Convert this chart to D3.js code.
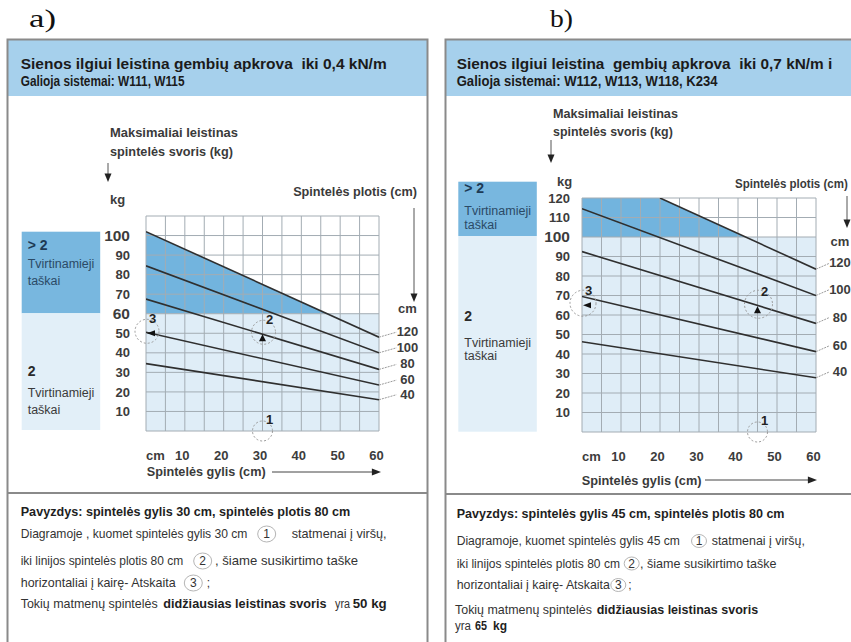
<!DOCTYPE html>
<html><head><meta charset="utf-8">
<script src="https://cdn.jsdelivr.net/npm/d3@7"></script>
<style>
body{margin:0;background:#fff}
svg{display:block}
text{font-family:"Liberation Sans Narrow","Arial Narrow","Liberation Sans",Arial,sans-serif;white-space:pre}
.serif{font-family:"Liberation Serif","DejaVu Serif",serif}
</style>
</head><body>
<svg id="c" width="851" height="642"></svg>
<script>
// ---------------- DATA ----------------
const depthTicks = [10, 20, 30, 40, 50, 60];
const kgTicksA = [10, 20, 30, 40, 50, 60, 70, 80, 90, 100];
const kgTicksB = [10, 20, 30, 40, 50, 60, 70, 80, 90, 100, 110, 120];
const widthLabels = [120, 100, 80, 60, 40];

// chart a) : value at depth 0 and 60 cm
const aDepth = [0, 60];
const aKg120 = [102, 48];
const aKg100 = [84.5, 40];
const aKg80  = [67.5, 31.5];
const aKg60  = [50.5, 23.5];
const aKg40  = [34.5, 16];

// chart b)
const bDepth120 = [20, 60];
const bKg120 = [120, 83.5];
const bDepth = [0, 60];
const bKg100 = [114.5, 70];
const bKg80  = [92.5, 55.7];
const bKg60  = [69.5, 41.2];
const bKg40  = [46.3, 27.8];

const aStrong = 60, bStrong = 100;        // >2 fixing points above this weight
const aExDepth = 30, aExKg = 50;          // worked example a)
const bExDepth = 45, bExKg = 65;          // worked example b)

// ---------------- COLOURS ----------------
const C = {
  header: "#a6d0ec", dark: "#72b4de", light: "#dfedf7", legDark: "#78b7df", legLight: "#e2eff8",
  grid: "#a3acb3", line: "#2f2f2f", frame: "#8a8a8a", text: "#2a2a2a", soft: "#3c3c3c"
};

const svg = d3.select("#c");
const defs = svg.append("defs");

// text helper: if a width is given, the text is horizontally scaled to that width
function txt(g, x, y, s, o = {}) {
  const t = g.append("text").text(s)
    .attr("font-size", o.size || 12)
    .attr("fill", o.fill || C.text)
    .attr("text-anchor", o.anchor || "start");
  if (o.bold) t.attr("font-weight", "bold");
  if (o.cls) t.attr("class", o.cls);
  if (o.w) {
    t.attr("x", 0).attr("y", 0);
    const n = t.node().getComputedTextLength() || o.w;
    t.attr("transform", `translate(${x},${y}) scale(${o.w / n},1)`);
  } else {
    t.attr("x", x).attr("y", y);
  }
  return t;
}
function arrowDown(g, x, y1, y2, s = 3.5) {
  g.append("line").attr("x1", x).attr("x2", x).attr("y1", y1).attr("y2", y2 - 2 * s)
    .attr("stroke", "#555").attr("stroke-width", 1);
  g.append("path").attr("d", `M${x - s},${y2 - 2.4 * s}L${x + s},${y2 - 2.4 * s}L${x},${y2}Z`).attr("fill", "#222");
}
function arrowRight(g, x1, x2, y, s = 3.5) {
  g.append("line").attr("x1", x1).attr("x2", x2 - 2 * s).attr("y1", y).attr("y2", y)
    .attr("stroke", "#444").attr("stroke-width", 1);
  g.append("path").attr("d", `M${x2 - 2.6 * s},${y - s}L${x2 - 2.6 * s},${y + s}L${x2},${y}Z`).attr("fill", "#222");
}
function dashCircle(g, cx, cy, r) {
  g.append("circle").attr("cx", cx).attr("cy", cy).attr("r", r)
    .attr("fill", "none").attr("stroke", "#9a9a9a").attr("stroke-width", 1).attr("stroke-dasharray", "2,2");
}

// ---------------- PANEL FRAMES ----------------
function panel(x0, x1, divY) {
  const g = svg.append("g");
  g.append("rect").attr("x", x0).attr("y", 40).attr("width", x1 - x0).attr("height", 56).attr("fill", C.header);
  g.append("rect").attr("x", x0).attr("y", 39.5).attr("width", x1 - x0).attr("height", 640)
    .attr("fill", "none").attr("stroke", C.frame).attr("stroke-width", 2);
  g.append("line").attr("x1", x0).attr("x2", x1).attr("y1", divY).attr("y2", divY)
    .attr("stroke", C.frame).attr("stroke-width", 2);
  return g;
}
const pa = panel(7.5, 427.5, 493);
const pb = panel(445.5, 880, 494);

txt(svg, 29, 27, "a)", {size: 26, cls: "serif", fill: "#111", w: 27});
txt(svg, 550, 27, "b)", {size: 26, cls: "serif", fill: "#111", w: 23});

txt(pa, 20.7, 68.5, "Sienos ilgiui leistina gembių apkrova  iki 0,4 kN/m", {size: 15, bold: true, w: 366, fill: "#1b1b1b"});
txt(pa, 20.7, 85.5, "Galioja sistemai: W111, W115", {size: 15, bold: true, w: 164, fill: "#1b1b1b"});
txt(pb, 456.7, 68.5, "Sienos ilgiui leistina  gembių apkrova  iki 0,7 kN/m i", {size: 15, bold: true, w: 376, fill: "#1b1b1b"});
txt(pb, 456.7, 85.5, "Galioja sistemai: W112, W113, W118, K234", {size: 15, bold: true, w: 261, fill: "#1b1b1b"});

// ---------------- CHART ----------------
function chart(o) {
  const g = svg.append("g");
  const x = o.x, y = o.y;
  const [x0, x1] = x.range(), [yb, yt] = y.range();
  defs.append("clipPath").attr("id", "clip" + o.id).append("rect")
    .attr("x", x0).attr("y", yt).attr("width", x1 - x0).attr("height", yb - yt);
  const p = g.append("g").attr("clip-path", `url(#clip${o.id})`);
  p.append("rect").attr("x", x0).attr("y", yt).attr("width", x1 - x0).attr("height", yb - yt).attr("fill", "#fff");
  p.append("rect").attr("x", x0).attr("y", yt).attr("width", x1 - x0).attr("height", y(o.strong) - yt).attr("fill", C.dark);
  const top = o.series[0];
  p.append("path").datum(d3.zip(top.depth, top.kg))
    .attr("d", d3.area().x(d => x(d[0])).y0(yt - 2).y1(d => y(d[1])))
    .attr("fill", "#fff");
  p.append("rect").attr("x", x0).attr("y", y(o.strong)).attr("width", x1 - x0).attr("height", yb - y(o.strong)).attr("fill", C.light);

  // grid
  const gx = d3.range(0, 61, 5), gy = d3.range(0, y.domain()[1] + 1, 10);
  g.append("g").selectAll("line").data(gx).join("line")
    .attr("x1", d => x(d)).attr("x2", d => x(d)).attr("y1", yt).attr("y2", yb)
    .attr("stroke", C.grid).attr("stroke-width", 1);
  g.append("g").selectAll("line").data(gy).join("line")
    .attr("x1", x0).attr("x2", x1).attr("y1", d => y(d)).attr("y2", d => y(d))
    .attr("stroke", C.grid).attr("stroke-width", 1);

  // series lines
  const line = d3.line().x(d => x(d[0])).y(d => y(d[1]));
  const sl = g.append("g").attr("clip-path", `url(#clip${o.id})`);
  o.series.forEach(s => {
    sl.append("path").datum(d3.zip(s.depth, s.kg)).attr("d", line)
      .attr("fill", "none").attr("stroke", C.line).attr("stroke-width", 1.6);
  });

  // width labels at right with leader lines
  o.series.forEach((s, i) => {
    const yEnd = y(s.kg[s.kg.length - 1]);
    const ly = yEnd - o.labelLift;
    g.append("line").attr("x1", x1).attr("y1", yEnd).attr("x2", o.labelX - 11).attr("y2", ly + 0.5)
      .attr("stroke", "#9a9a9a").attr("stroke-width", 1).attr("stroke-dasharray", "2,1");
    txt(g, o.labelX, ly + 4.5, String(widthLabels[i]), {size: 13, bold: true, anchor: "middle", fill: C.soft});
  });

  // y axis tick labels
  const ya = g.append("g").attr("transform", `translate(${o.yLabelX},0)`)
    .call(d3.axisLeft(y).tickValues(o.kgTicks).tickSize(0).tickPadding(0));
  ya.select(".domain").remove();
  ya.selectAll("text").attr("font-size", d => o.bigTicks.includes(d) ? 15.5 : 13)
    .attr("font-weight", "bold").attr("fill", C.soft).attr("font-family", null);

  // x axis tick labels
  const xa = g.append("g").attr("transform", `translate(-3,${o.xLabelY})`)
    .call(d3.axisBottom(x).tickValues(depthTicks).tickSize(0).tickPadding(0));
  xa.select(".domain").remove();
  xa.selectAll("text").attr("font-size", 13).attr("font-weight", "bold").attr("fill", C.soft)
    .attr("font-family", null).attr("dy", "0.35em").attr("y", 0);
  txt(g, x(0) + 9.5, o.xLabelY + 4.5, "cm", {size: 13, bold: true, anchor: "middle", fill: C.soft});
  return g;
}

const xA = d3.scaleLinear().domain([0, 60]).range([146, 379]);
const yA = d3.scaleLinear().domain([0, 110]).range([431, 216]);
const xB = d3.scaleLinear().domain([0, 60]).range([582, 816]);
const yB = d3.scaleLinear().domain([0, 120]).range([432, 198]);

const gA = chart({
  id: "A", x: xA, y: yA, strong: aStrong, kgTicks: kgTicksA, bigTicks: [100, 60],
  yLabelX: 130, xLabelY: 455, labelX: 407.5, labelLift: 5.5,
  series: [
    {depth: aDepth, kg: aKg120}, {depth: aDepth, kg: aKg100}, {depth: aDepth, kg: aKg80},
    {depth: aDepth, kg: aKg60}, {depth: aDepth, kg: aKg40}
  ]
});
const gB = chart({
  id: "B", x: xB, y: yB, strong: bStrong, kgTicks: kgTicksB, bigTicks: [100],
  yLabelX: 570, xLabelY: 456.7, labelX: 840, labelLift: 6.2,
  series: [
    {depth: bDepth120, kg: bKg120}, {depth: bDepth, kg: bKg100}, {depth: bDepth, kg: bKg80},
    {depth: bDepth, kg: bKg60}, {depth: bDepth, kg: bKg40}
  ]
});

// ---------------- LEGEND BOXES ----------------
function legend(g, x, yTop, yMid, yBot, t) {
  g.append("rect").attr("x", x).attr("y", yTop).attr("width", 78.5).attr("height", yMid - yTop).attr("fill", C.legDark);
  g.append("rect").attr("x", x).attr("y", yMid).attr("width", 78.5).attr("height", yBot - yMid).attr("fill", C.legLight);
  txt(g, x + 6, t[0], "> 2", {size: 14, bold: true, fill: "#1d3a55"});
  txt(g, x + 6, t[1], "Tvirtinamieji", {size: 12.5, fill: "#2b4a66"});
  txt(g, x + 6, t[2], "taškai", {size: 12.5, fill: "#2b4a66"});
  txt(g, x + 6, t[3], "2", {size: 14, bold: true, fill: "#2a2a2a"});
  txt(g, x + 6, t[4], "Tvirtinamieji", {size: 12.5, fill: "#3a3a3a"});
  txt(g, x + 6, t[5], "taškai", {size: 12.5, fill: "#3a3a3a"});
}
legend(gA, 21.7, 231.7, 313.3, 430, [250, 268, 285, 376, 397, 414]);
legend(gB, 458.3, 181.7, 236, 431.7, [193, 215, 229, 321, 347, 360]);

// ---------------- AXIS TITLES ----------------
txt(gA, 110, 137, "Maksimaliai leistinas", {size: 12, bold: true, w: 128, fill: "#3a3a3a"});
txt(gA, 110, 156, "spintelės svoris (kg)", {size: 12, bold: true, w: 123, fill: "#3a3a3a"});
arrowDown(gA, 108, 163, 182);
txt(gA, 110, 204, "kg", {size: 13, bold: true, fill: C.soft});
txt(gA, 417, 196, "Spintelės plotis (cm)", {size: 12, bold: true, w: 124, anchor: "end", fill: "#3a3a3a"});
arrowDown(gA, 414, 208, 302);
txt(gA, 407.5, 312.5, "cm", {size: 13, bold: true, anchor: "middle", fill: C.soft});
txt(gA, 146.7, 476, "Spintelės gylis (cm)", {size: 12.5, bold: true, w: 119, fill: "#3a3a3a"});
arrowRight(gA, 272, 381, 472);

txt(gB, 553, 117.5, "Maksimaliai leistinas", {size: 12, bold: true, w: 125, fill: "#3a3a3a"});
txt(gB, 553, 136, "spintelės svoris (kg)", {size: 12, bold: true, w: 120, fill: "#3a3a3a"});
arrowDown(gB, 551, 140, 163);
txt(gB, 557, 186, "kg", {size: 13, bold: true, fill: C.soft});
txt(gB, 735, 187.5, "Spintelės plotis (cm)", {size: 12, bold: true, w: 113, fill: "#3a3a3a"});
arrowDown(gB, 847, 196, 228);
txt(gB, 840, 246, "cm", {size: 13, bold: true, anchor: "middle", fill: C.soft});
txt(gB, 581.7, 484.5, "Spintelės gylis (cm)", {size: 12.5, bold: true, w: 120, fill: "#3a3a3a"});
arrowRight(gB, 705, 817, 480);

// ---------------- EXAMPLE MARKERS ----------------
function example(g, x, y, d, kg, o) {
  const px = x(d), py = y(kg), yb = y.range()[0], xl = x.range()[0];
  dashCircle(g, px, yb, 10);
  txt(g, px + 7, yb - 7, "1", {size: 13, bold: true, anchor: "middle", fill: "#222"});
  dashCircle(g, px + 1, py - 1, o.r2);
  txt(g, px + 7, py - 9, "2", {size: 13, bold: true, anchor: "middle", fill: "#222"});
  g.append("path").attr("d", `M${px},${py + 1}L${px - 3.5},${py + 8}L${px + 3.5},${py + 8}Z`).attr("fill", "#111");
  dashCircle(g, xl + 1, py - 2, o.r3);
  txt(g, xl + 6.5, py - 10, "3", {size: 13, bold: true, anchor: "middle", fill: "#222"});
  g.append("path").attr("d", `M${xl + 1},${py}L${xl + 9},${py - 3}L${xl + 9},${py + 3}Z`).attr("fill", "#111");
}
example(gA, xA, yA, aExDepth, aExKg, {r2: 12, r3: 12});
example(gB, xB, yB, bExDepth, bExKg, {r2: 14, r3: 13});

// ---------------- EXPLANATION TEXT ----------------
function rows(g, list, cr) {
  list.forEach(r => {
    r.segs.forEach(s => {
      if (s.c) {
        g.append("ellipse").attr("cx", s.x).attr("cy", r.y - 4).attr("rx", cr).attr("ry", cr - 1)
          .attr("fill", "#fff").attr("stroke", "#b5b5b5").attr("stroke-width", 1);
        txt(g, s.x, r.y, s.c, {size: 12, anchor: "middle", fill: "#333"});
      } else {
        txt(g, s.x, r.y, s.t, {size: s.b ? 12.5 : 12, bold: !!s.b, w: s.w, fill: s.b ? "#1e1e1e" : "#333"});
      }
    });
  });
}
rows(pa, [
  {y: 516, segs: [{t: "Pavyzdys: spintelės gylis 30 cm, spintelės plotis 80 cm", x: 20.7, w: 330, b: 1}]},
  {y: 538, segs: [{t: "Diagramoje , kuomet spintelės gylis 30 cm", x: 20.7, w: 227}, {c: "1", x: 266.7},
                  {t: "statmenai į viršų,", x: 291.7, w: 95}]},
  {y: 565, segs: [{t: "iki linijos spintelės plotis 80 cm", x: 20.7, w: 162.6}, {c: "2", x: 202.7},
                  {t: ", šiame susikirtimo taške", x: 215, w: 143.3}]},
  {y: 587, segs: [{t: "horizontaliai į kairę- Atskaita", x: 20.7, w: 155}, {c: "3", x: 193.3},
                  {t: ";", x: 206.7}]},
  {y: 608, segs: [{t: "Tokių matmenų spintelės", x: 20.7, w: 137}, {t: "didžiausias leistinas svoris", x: 163.3, w: 163.4, b: 1},
                  {t: "yra", x: 335, w: 15}, {t: "50 kg", x: 352.7, w: 34, b: 1}]}
], 9);
rows(pb, [
  {y: 518, segs: [{t: "Pavyzdys: spintelės gylis 45 cm, spintelės plotis 80 cm", x: 456.7, w: 328.3, b: 1}]},
  {y: 545, segs: [{t: "Diagramoje, kuomet spintelės gylis 45 cm", x: 456.7, w: 223.3}, {c: "1", x: 699},
                  {t: "statmenai į viršų,", x: 711.7, w: 93.3}]},
  {y: 567.5, segs: [{t: "iki linijos spintelės plotis 80 cm", x: 456.7, w: 163.3}, {c: "2", x: 631.7},
                  {t: ", šiame susikirtimo taške", x: 640, w: 136.7}]},
  {y: 589, segs: [{t: "horizontaliai į kairę- Atskaita", x: 456.7, w: 153.3}, {c: "3", x: 618.3},
                  {t: ";", x: 628.3}]},
  {y: 614, segs: [{t: "Tokių matmenų spintelės", x: 455, w: 137}, {t: "didžiausias leistinas svoris", x: 596.7, w: 161.6, b: 1}]},
  {y: 629.5, segs: [{t: "yra", x: 455, w: 16}, {t: "65", x: 475, w: 12, b: 1}, {t: "kg", x: 493, w: 14, b: 1}]}
], 7.5);
</script>
</body></html>
